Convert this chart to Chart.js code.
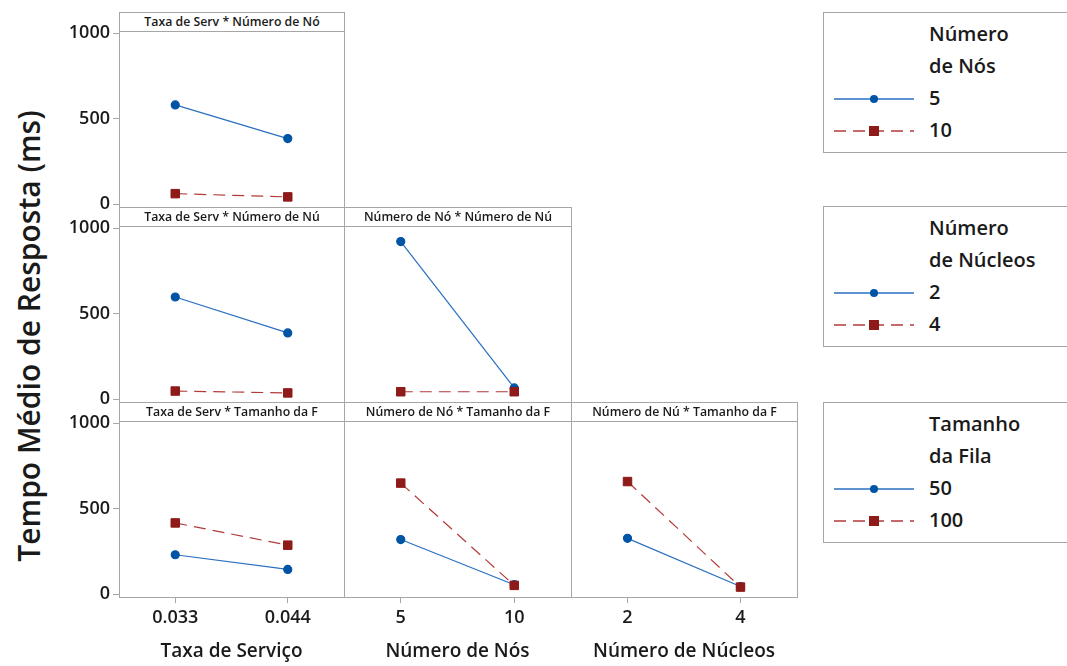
<!DOCTYPE html>
<html>
<head>
<meta charset="utf-8">
<script src="https://cdn.jsdelivr.net/npm/chart.js@4"></script>
<style>
body { margin: 0; width: 1067px; height: 666px; overflow: hidden; background: #fff; font-family: 'Open Sans', sans-serif; color: #1a1a1a; }
.frame { position: absolute; border: 1px solid #a6a6a6; box-sizing: border-box; }
.head { position: absolute; border: 1px solid #a6a6a6; box-sizing: border-box; font-size: 12.3px; font-weight: 600; text-align: center; white-space: nowrap; }
canvas { position: absolute; }
.ytitle { position: absolute; left: 28px; top: 336px; transform: translate(-50%, -50%) rotate(-90deg); font-size: 30px; font-weight: 600; white-space: nowrap; }
.legend { position: absolute; left: 823px; width: 260px; height: 141px; border: 1px solid #a6a6a6; box-sizing: border-box; }
.legend div { position: absolute; left: 105px; font-size: 20px; font-weight: 600; line-height: 32px; white-space: nowrap; }
.legend svg { position: absolute; left: 0; }
</style>
</head>
<body>
<div class="ytitle">Tempo Médio de Resposta (ms)</div>
<script>
// niveis de cada fator
const taxaLabels = ['0.033', '0.044'];
const nosLabels = ['5', '10'];
const nucleosLabels = ['2', '4'];
const filaLabels = ['50', '100'];

// medias (ms)
const taxaNos5 = [581, 384];
const taxaNos10 = [62, 43];
const taxaNuc2 = [598, 388];
const taxaNuc4 = [48, 37];
const nosNuc2 = [922, 66];
const nosNuc4 = [44, 44];
const taxaFila50 = [231, 145];
const taxaFila100 = [417, 287];
const nosFila50 = [320, 56];
const nosFila100 = [650, 52];
const nucFila50 = [327, 45];
const nucFila100 = [659, 42];

const yTicks = [0, 500, 1000];
const yMin = -16;
const yMax = 1013;

// grade dos paineis
const cols = [[119, 344], [344, 571], [571, 797]];
const rows = [[12, 31, 207], [207, 226, 402], [402, 421, 597]];
const YW = 59;   // largura eixo y
const XH = 69;   // altura eixo x + titulo
const M = 14;

const azul = '#0054a6';
const azulLinha = '#2a6fc0';
const verm = '#8e1a1a';
const vermLinha = '#b33a3a';
const cinza = '#a6a6a6';
const fonteTick = { family: 'Open Sans', size: 18, weight: '600' };
const fonteTitulo = { family: 'Open Sans', size: 19, weight: '600' };

function addDiv(cls, l, t, w, h, txt) {
	const d = document.createElement('div');
	d.className = cls;
	d.style.left = l + 'px';
	d.style.top = t + 'px';
	d.style.width = w + 'px';
	d.style.height = h + 'px';
	if (txt) {
		d.textContent = txt;
		d.style.lineHeight = (h - 2) + 'px';
	}
	document.body.appendChild(d);
}

function painel(p) {
	const [cl, cr] = cols[p.col];
	const [ht, top, bot] = rows[p.row];
	const showY = p.col === 0;
	const showX = p.row === 2;

	addDiv('frame', cl, ht, cr - cl + 1, bot - ht + 1);
	addDiv('head', cl, ht, cr - cl + 1, top - ht + 1, p.titulo);

	const padL = showY ? 0 : M;
	const left = cl - (showY ? YW : M);
	const ctop = top - M;
	const w = cr - cl + (showY ? YW : M) + M;
	const h = showX ? 666 - ctop : bot - top + 2 * M;

	const cv = document.createElement('canvas');
	cv.width = w;
	cv.height = h;
	cv.style.left = left + 'px';
	cv.style.top = ctop + 'px';
	cv.style.width = w + 'px';
	cv.style.height = h + 'px';
	document.body.appendChild(cv);

	new Chart(cv.getContext('2d'), {
		type: 'line',
		data: {
			labels: p.labels,
			datasets: [
				{
					data: p.a,
					borderColor: azulLinha,
					borderWidth: 1.2,
					pointStyle: 'circle',
					pointRadius: 4,
					pointBackgroundColor: azul,
					pointBorderColor: azul,
					order: 1,
				},
				{
					data: p.b,
					borderColor: vermLinha,
					borderWidth: 1.2,
					borderDash: [12, 7],
					pointStyle: 'rect',
					pointRadius: 6,
					pointBorderWidth: 1,
					pointBackgroundColor: verm,
					pointBorderColor: verm,
					order: 0,
				},
			],
		},
		options: {
			responsive: false,
			animation: false,
			layout: { padding: { left: padL, right: M, top: M, bottom: showX ? 0 : M } },
			plugins: { legend: { display: false }, tooltip: { enabled: false } },
			scales: {
				x: {
					type: 'category',
					offset: true,
					display: showX,
					grid: { offset: false, drawOnChartArea: false, drawTicks: true, tickLength: 6, color: cinza },
					border: { display: false },
					ticks: { font: fonteTick, color: '#1a1a1a', padding: 4, maxRotation: 0 },
					title: { display: true, text: p.xTitulo, font: fonteTitulo, color: '#1a1a1a', padding: { top: 0, bottom: 3 } },
					afterFit: (s) => { if (showX) s.height = XH; },
				},
				y: {
					min: yMin,
					max: yMax,
					display: showY,
					grid: { drawOnChartArea: false, drawTicks: true, tickLength: 6, color: cinza },
					border: { display: false },
					ticks: { font: fonteTick, color: '#1a1a1a', padding: 3, callback: (v) => String(v) },
					afterBuildTicks: (s) => { s.ticks = yTicks.map((v) => ({ value: v })); },
					afterFit: (s) => { if (showY) s.width = YW; },
				},
			},
		},
	});
}

painel({ row: 0, col: 0, titulo: 'Taxa de Serv * Número de Nó', labels: taxaLabels, a: taxaNos5, b: taxaNos10 });
painel({ row: 1, col: 0, titulo: 'Taxa de Serv * Número de Nú', labels: taxaLabels, a: taxaNuc2, b: taxaNuc4 });
painel({ row: 1, col: 1, titulo: 'Número de Nó * Número de Nú', labels: nosLabels, a: nosNuc2, b: nosNuc4 });
painel({ row: 2, col: 0, titulo: 'Taxa de Serv * Tamanho da F', labels: taxaLabels, a: taxaFila50, b: taxaFila100, xTitulo: 'Taxa de Serviço' });
painel({ row: 2, col: 1, titulo: 'Número de Nó * Tamanho da F', labels: nosLabels, a: nosFila50, b: nosFila100, xTitulo: 'Número de Nós' });
painel({ row: 2, col: 2, titulo: 'Número de Nú * Tamanho da F', labels: nucleosLabels, a: nucFila50, b: nucFila100, xTitulo: 'Número de Núcleos' });

// legendas
const legendas = [
	{ top: 12, linhas: ['Número', 'de Nós'], niveis: nosLabels },
	{ top: 206, linhas: ['Número', 'de Núcleos'], niveis: nucleosLabels },
	{ top: 402, linhas: ['Tamanho', 'da Fila'], niveis: filaLabels },
];

legendas.forEach((lg) => {
	const box = document.createElement('div');
	box.className = 'legend';
	box.style.top = lg.top + 'px';
	const textos = lg.linhas.concat(lg.niveis);
	textos.forEach((t, i) => {
		const d = document.createElement('div');
		d.textContent = t;
		d.style.top = (5 + i * 32) + 'px';
		box.appendChild(d);
	});
	box.insertAdjacentHTML('beforeend',
		'<svg width="100" height="141" style="top:0">' +
		'<line x1="10" y1="86" x2="90" y2="86" stroke="' + azulLinha + '" stroke-width="1.3"/>' +
		'<circle cx="50" cy="86" r="4" fill="' + azul + '"/>' +
		'<line x1="10" y1="118" x2="90" y2="118" stroke="' + vermLinha + '" stroke-width="1.3" stroke-dasharray="12 7"/>' +
		'<rect x="45" y="113" width="10" height="10" fill="' + verm + '"/>' +
		'</svg>');
	document.body.appendChild(box);
});
</script>
</body>
</html>
